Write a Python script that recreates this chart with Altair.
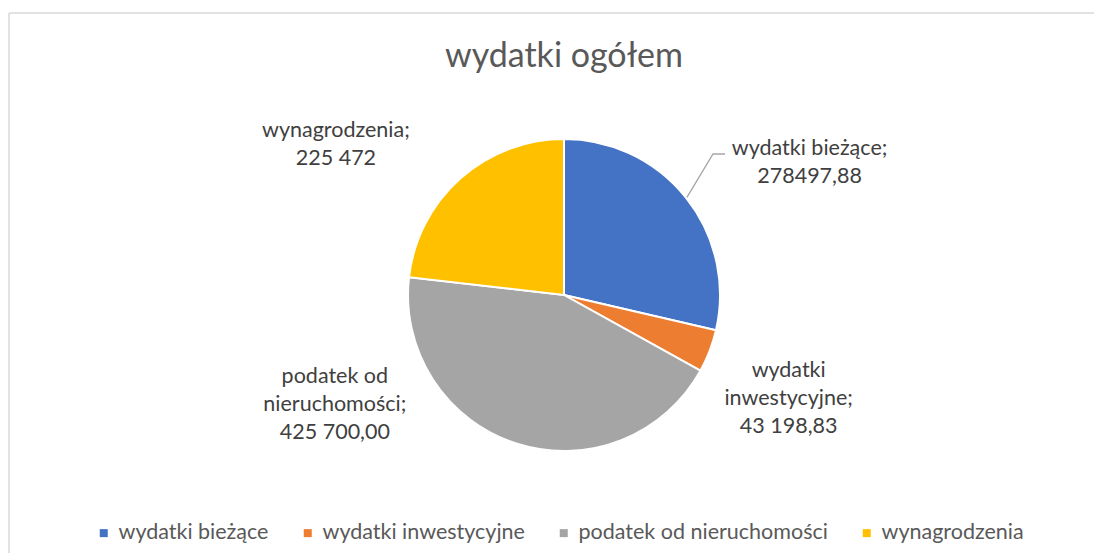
import math
import altair as alt
import pandas as pd

categories = ["wydatki bieżące", "wydatki inwestycyjne", "podatek od nieruchomości", "wynagrodzenia"]
values = [278497.88, 43198.83, 425700.00, 225472.00]
label_texts = [
    "wydatki bieżące;\n278497,88",
    "wydatki\ninwestycyjne;\n43 198,83",
    "podatek od\nnieruchomości;\n425 700,00",
    "wynagrodzenia;\n225 472",
]
colors = ["#4472C4", "#ED7D31", "#A5A5A5", "#FFC000"]
title_text = "wydatki ogółem"

FONT = "Lato"
FS = 21.5
W, H = 1085, 540
CX, CY, R = 555, 282, 156
LR = 200
# per-label offsets (dx, dy) from the anchor at radius LR
offsets = [(89, -22), (38, 4), (-168, -108), (-95, -15)]

df = pd.DataFrame({"cat": categories, "value": values, "lbl": label_texts, "idx": list(range(len(categories)))})

color = alt.Color(
    "cat:N",
    scale=alt.Scale(domain=categories, range=colors),
    sort=categories,
    legend=alt.Legend(
        orient="none", legendX=84, legendY=509, direction="horizontal", title=None,
        symbolType="square", symbolSize=64, labelFont=FONT, labelFontSize=FS,
        labelColor="#595959", labelOffset=4, columnPadding=28, labelLimit=400,
        symbolStrokeWidth=0,
    ),
)

base = alt.Chart(df).encode(
    theta=alt.Theta("value:Q", stack=True),
    order=alt.Order("idx:Q"),
    x=alt.value(CX),
    y=alt.value(CY),
)

arcs = base.mark_arc(outerRadius=R, stroke="white", strokeWidth=2).encode(color=color)

layers = [arcs]
for c, (dx, dy) in zip(categories, offsets):
    t = base.mark_text(
        radius=LR, dx=dx, dy=dy, align="center", baseline="middle", lineBreak="\n",
        font=FONT, fontSize=FS, color="#404040", lineHeight=28,
    ).encode(
        text=alt.condition(alt.datum.cat == c, alt.Text("lbl:N"), alt.value("")),
        detail="cat:N",
    )
    layers.append(t)

# leader line for first slice, starting at its mid-angle on the pie edge
total = sum(values)
mid = (values[0] / 2) / total * 2 * math.pi
sx, sy = CX + (R + 1) * math.sin(mid), CY - (R + 1) * math.cos(mid)
leader = pd.DataFrame({"x": [sx, 704, 716], "y": [sy, 141, 141], "o": [0, 1, 2]})
line = alt.Chart(leader).mark_line(color="#A6A6A6", strokeWidth=1.3).encode(
    x=alt.X("x:Q", scale=None), y=alt.Y("y:Q", scale=None), order="o:Q"
)
layers.append(line)

title = alt.Chart(pd.DataFrame({"t": [title_text]})).mark_text(
    font=FONT, fontSize=34, color="#595959", baseline="alphabetic", align="center"
).encode(text="t:N", x=alt.value(CX), y=alt.value(54))
layers.append(title)

# chart frame (top and left edges; the others lie outside the window)
frame_top = alt.Chart(pd.DataFrame({"k": [0]})).mark_rule(color="#D9D9D9", strokeWidth=1.5).encode(
    x=alt.value(0), x2=alt.value(W), y=alt.value(0)
)
frame_left = alt.Chart(pd.DataFrame({"k": [0]})).mark_rule(color="#D9D9D9", strokeWidth=1.5).encode(
    x=alt.value(0), y=alt.value(0), y2=alt.value(H)
)
layers = [frame_top, frame_left] + layers

chart = alt.layer(*layers).properties(
    width=W, height=H,
    padding={"left": 1, "top": 5, "right": 0, "bottom": 0},
    autosize=alt.AutoSizeParams(type="none"),
    background="white",
).configure_view(stroke=None)

chart.save("out.html", embed_options={"renderer": "svg", "actions": False})
